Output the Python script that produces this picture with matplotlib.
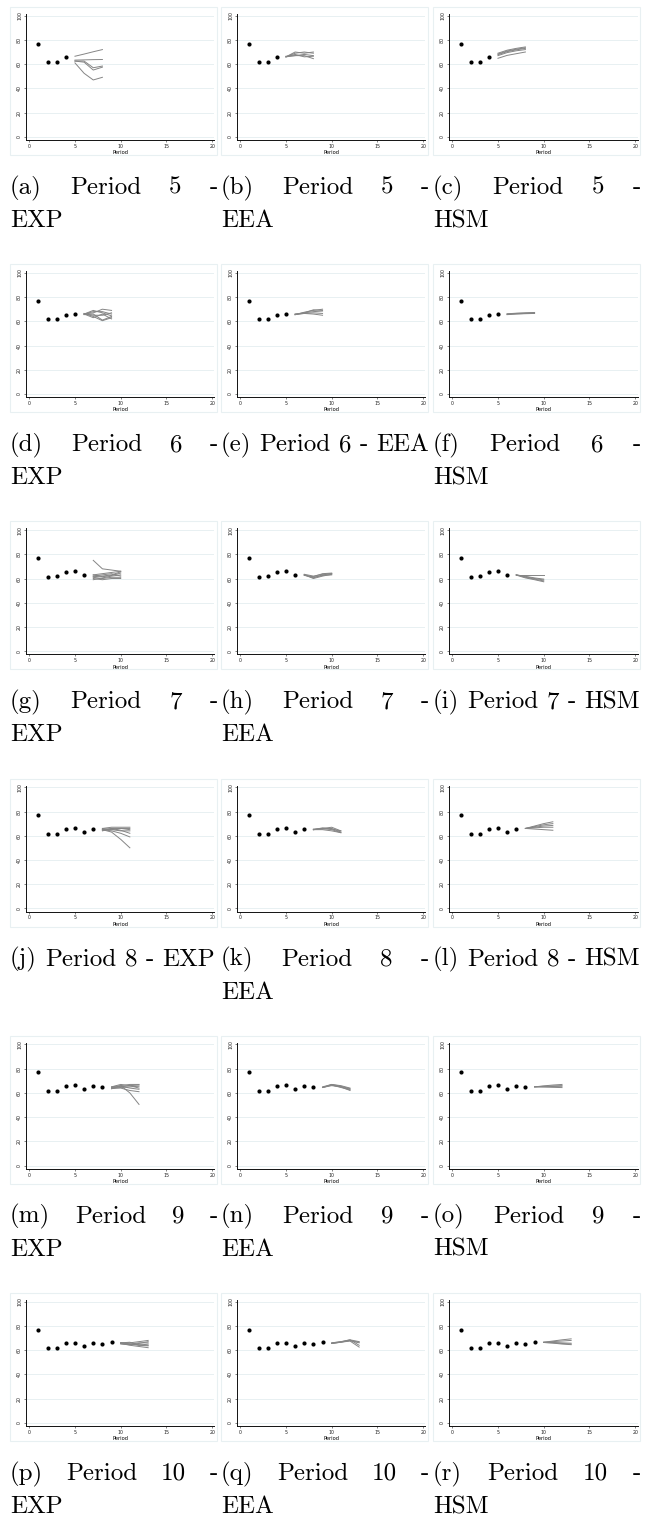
import matplotlib
matplotlib.use('Agg')
import matplotlib.pyplot as plt
from matplotlib.patches import Rectangle

# ---------------- data ----------------
observed = [77.0, 61.5, 61.7, 65.6, 66.2, 63.0, 65.8, 64.8, 66.4]
periods = [5, 6, 7, 8, 9, 10]
methods = ['EXP', 'EEA', 'HSM']
letters = 'abcdefghijklmnopqr'
x_ticks = [0, 5, 10, 15, 20]
y_ticks = [0, 20, 40, 60, 80, 100]

exp_p5 = [[66.5, 68.3, 70.2, 72.0], [63.3, 63.5, 63.7, 63.8], [62.5, 61.6, 55.1, 57.5],
          [61.0, 52.4, 46.9, 49.1], [62.5, 62.5, 57.0, 58.4]]
eea_p5 = [[66, 70, 69, 70], [66, 69, 70, 69], [66.5, 67, 68, 67], [66, 68, 66, 66.5], [66, 67, 67, 64.5]]
hsm_p5 = [[69, 71.5, 73, 74.2], [68.3, 70.8, 72.3, 73.5], [67.8, 70.3, 71.8, 73],
          [67, 69.5, 71, 72], [64.8, 67.2, 68.6, 70]]

exp_p6 = [[66, 67, 70, 69], [66, 68, 68, 66], [66.5, 64, 60.5, 63], [66, 65, 65, 67],
          [65.5, 66, 61, 64], [66, 69, 67, 64.5], [66, 63, 66, 62]]
eea_p6 = [[65.5, 67.5, 69, 70], [65.5, 67, 68, 68.5], [66, 66.5, 67, 66.5], [65.5, 66.5, 66, 65],
          [66, 67, 69.5, 69]]
hsm_p6 = [[66, 66.5, 66.8, 67], [65.8, 66.2, 66.5, 66.7], [65.5, 66, 66.3, 66.5], [66.2, 66.7, 67, 67.3]]

exp_p7 = [[75, 68, 67, 66], [63, 64, 65, 66], [62, 63, 64, 62], [61, 60, 61, 61], [60, 59, 60, 60],
          [63, 61.5, 62.5, 64.5], [61.5, 62, 63, 65.5], [59, 60.5, 62, 63]]
eea_p7 = [[63, 60.5, 63, 64], [63, 61, 62.5, 63], [62.5, 61.5, 64, 64.5], [63, 60, 62, 63.5],
          [63.5, 62, 63.5, 64]]
hsm_p7 = [[63, 63, 63, 63], [63, 61, 59.5, 58], [63, 61.5, 60, 58.8], [63, 61.8, 60.5, 59.5],
          [62.8, 60.5, 59, 57.3]]

exp_p8 = [[66, 67, 67, 67], [65, 66, 66, 65], [66, 65, 64, 64], [64, 66, 64.5, 62], [65, 64, 62, 59],
          [65, 63, 57, 50], [64.5, 65, 66, 66]]
eea_p8 = [[65, 66, 67, 64], [65, 65.5, 66, 63], [65.5, 66, 65, 62.5], [65, 66.5, 65.5, 64], [65, 65, 64, 62.5]]
hsm_p8 = [[66, 68, 70, 71.5], [66, 67.5, 69, 70], [66, 67, 68, 68.5], [66, 66.5, 67, 67], [66, 65.5, 65, 64.5]]

exp_p9 = [[64, 66, 67, 67], [65, 67, 66, 66.5], [64.5, 65, 66, 64], [63.5, 65.5, 64, 63], [64, 64, 62, 61],
          [65, 66, 60, 50.5], [63.5, 64.5, 65, 65.5]]
eea_p9 = [[64.5, 66.5, 65, 63], [64.5, 67, 65.5, 63.5], [65, 67, 66, 64], [64.5, 66.5, 64.5, 62.5],
          [64.5, 66, 65, 62]]
hsm_p9 = [[65, 65.8, 66.5, 67], [65, 65.5, 65.8, 66], [65, 65.2, 65.3, 65.5], [65, 64.8, 64.6, 64.4]]

exp_p10 = [[66, 65, 64, 65], [66, 66, 67, 68], [65.5, 64, 63, 62], [66, 65, 66, 66], [65, 64.5, 65.5, 67],
           [66, 66.5, 64, 63.5], [65.5, 65, 64.5, 64]]
eea_p10 = [[65.5, 66.5, 68, 66.5], [65.5, 66.8, 68.5, 67], [66, 67, 68.5, 64], [65.5, 66.5, 67.5, 62.5],
           [66, 66.8, 67.8, 66]]
hsm_p10 = [[66.5, 67.5, 68.5, 69.3], [66.5, 67, 67.5, 68], [66.3, 66, 65.5, 65], [66.3, 65.8, 65, 64.5],
           [66.5, 66.3, 66, 65.7]]

forecasts = [
    [exp_p5, eea_p5, hsm_p5],
    [exp_p6, eea_p6, hsm_p6],
    [exp_p7, eea_p7, hsm_p7],
    [exp_p8, eea_p8, hsm_p8],
    [exp_p9, eea_p9, hsm_p9],
    [exp_p10, eea_p10, hsm_p10],
]
# captions that break onto a second line in the reference
wrapped = [True, True, True,
           True, False, True,
           True, True, False,
           False, True, False,
           True, True, True,
           True, True, True]

# ---------------- layout ----------------
W, H, DPI = 645, 1515, 100
fig = plt.figure(figsize=(W / DPI, H / DPI), dpi=DPI)
fig.patch.set_facecolor('white')

def fx(px):
    return px / W

def fy(py):
    return 1 - py / H

box_x = [10, 221, 433]
box_w = 207
box_h = 148
row_y0 = 7
row_pitch = 257.2

grid_c = '#e8f0f2'
line_c = '#858585'
FS = 18.0
renderer = fig.canvas.get_renderer()

def text_w(s):
    t = fig.text(0, 0, s, fontsize=FS, fontfamily='cmr10')
    w = t.get_window_extent(renderer).width
    t.remove()
    return w

space_px = FS * DPI / 72 * 0.333

for r, p in enumerate(periods):
    by = row_y0 + r * row_pitch
    for c, m in enumerate(methods):
        bx = box_x[c]
        fig.patches.append(Rectangle((fx(bx), fy(by + box_h)), box_w / W, box_h / H,
                                     transform=fig.transFigure, facecolor='none',
                                     edgecolor=grid_c, lw=0.8, zorder=5))
        ax = fig.add_axes([fx(bx + 16), fy(by + 7 + 126), 188.5 / W, 126 / H])
        ax.set_xlim(-0.35, 20.25)
        ax.set_ylim(-2.7, 101.4)
        ax.set_xticks(x_ticks)
        ax.set_yticks(y_ticks)
        ax.set_xticklabels([str(v) for v in x_ticks], fontsize=3.4)
        ax.set_yticklabels([str(v) for v in y_ticks], fontsize=3.4, rotation=90, va='center')
        ax.tick_params(length=1.6, width=0.4, pad=1.2, colors='#222222')
        for s in ['top', 'right']:
            ax.spines[s].set_visible(False)
        for s in ['left', 'bottom']:
            ax.spines[s].set_linewidth(0.7)
            ax.spines[s].set_color('#111111')
        ax.grid(axis='y', color=grid_c, lw=0.7)
        ax.set_axisbelow(True)
        ax.set_xlabel('Period', fontsize=3.7, labelpad=1.0)
        ax.patch.set_alpha(0)

        xs_obs = list(range(1, p))
        ax.plot(xs_obs, observed[:p - 1], 'o', color='black', ms=3.0, mec='none', zorder=3)
        xs_f = list(range(p, p + 4))
        for series in forecasts[r][c]:
            ax.plot(xs_f, series, color=line_c, lw=0.7, zorder=2)

        # caption
        k = r * 3 + c
        tokens = ['(%s)' % letters[k], 'Period', str(p), '-', m]
        cx0, cx1 = bx, bx + box_w + 1
        base1 = by + 187
        base2 = by + 220
        if wrapped[k]:
            line1 = tokens[:4]
            ws = [text_w(t) for t in line1]
            gap = (cx1 - cx0 - sum(ws)) / (len(line1) - 1)
            xpos = cx0
            for t, w in zip(line1, ws):
                fig.text(fx(xpos), fy(base1), t, fontsize=FS, fontfamily='cmr10',
                         ha='left', va='baseline')
                xpos += w + gap
            fig.text(fx(cx0), fy(base2), m, fontsize=FS, fontfamily='cmr10',
                     ha='left', va='baseline')
        else:
            xpos = cx0
            for t in tokens:
                fig.text(fx(xpos), fy(base1), t, fontsize=FS, fontfamily='cmr10',
                         ha='left', va='baseline')
                xpos += text_w(t) + space_px

fig.savefig('out.png', dpi=DPI, facecolor='white')
